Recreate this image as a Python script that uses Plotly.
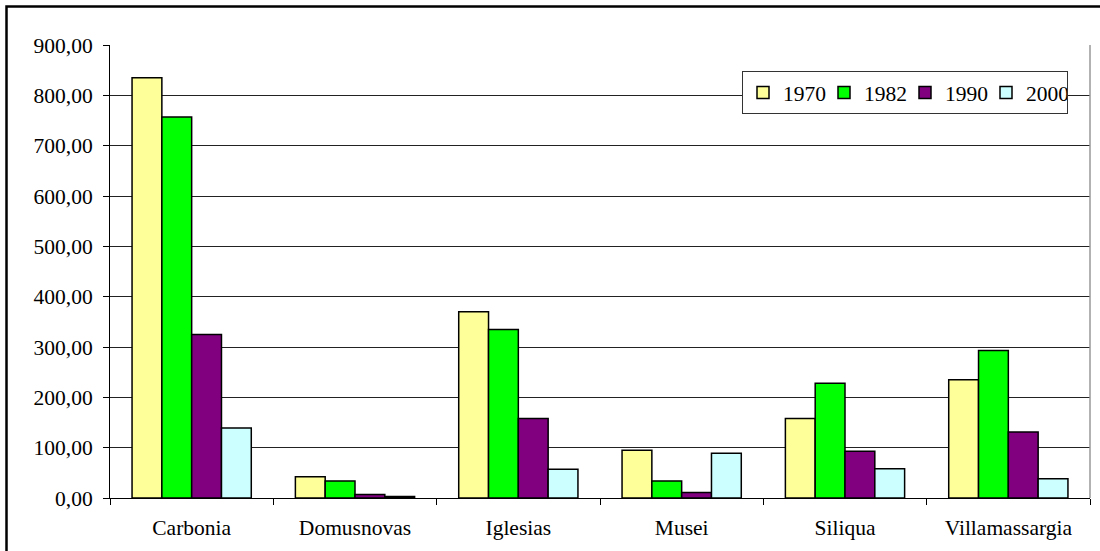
import plotly.graph_objects as go

categories = ["Carbonia", "Domusnovas", "Iglesias", "Musei", "Siliqua", "Villamassargia"]
years = ["1970", "1982", "1990", "2000"]
v1970 = [835, 42, 370, 95, 158, 235]
v1982 = [757, 34, 335, 34, 228, 293]
v1990 = [325, 7, 158, 11, 93, 131]
v2000 = [139, 3, 57, 89, 58, 38]
colors = ["#FFFF99", "#00FF00", "#800080", "#CCFFFF"]
series = [v1970, v1982, v1990, v2000]

FONT = "Liberation Serif, Times New Roman, serif"

fig = go.Figure()
for name, vals, col in zip(years, series, colors):
    fig.add_trace(go.Bar(
        x=categories, y=vals, name=name,
        marker=dict(color=col, line=dict(color="black", width=1.5)),
    ))

W, H = 1100, 551
L, R, T, B = 110, 10, 45, 53
pw, ph = W - L - R, H - T - B

def px_x(x):
    return (x - L) / pw

def px_y(y):
    return (H - B - y) / ph

fig.update_layout(
    width=W, height=H,
    margin=dict(l=L, r=R, t=T, b=B),
    paper_bgcolor="white", plot_bgcolor="white",
    barmode="group", bargap=0.27, bargroupgap=0,
    separators=", ",
    font=dict(family=FONT, size=21.5, color="black"),
    legend=dict(
        orientation="h", x=px_x(742), y=px_y(71), xanchor="left", yanchor="top",
        bgcolor="white", bordercolor="#333333", borderwidth=1,
        font=dict(family=FONT, size=21.5, color="black"),
        itemwidth=30, tracegroupgap=0, entrywidth=36,
    ),
    xaxis=dict(
        showline=True, linecolor="black", linewidth=1,
        ticks="outside", ticklen=6, tickcolor="black", tickson="boundaries",
        mirror=False, showgrid=False, ticklabelstandoff=10,
        tickfont=dict(family=FONT, size=21.5),
    ),
    yaxis=dict(
        range=[0, 900], dtick=100, tickformat=".2f",
        showline=True, linecolor="black", linewidth=1,
        ticks="outside", ticklen=6, tickcolor="black",
        showgrid=True, gridcolor="#222222", gridwidth=1,
        zeroline=False, ticklabelstandoff=6,
        tickfont=dict(family=FONT, size=21.5),
    ),
    shapes=[
        dict(type="line", xref="paper", yref="paper", x0=1, x1=1, y0=0, y1=1,
             line=dict(color="#999999", width=1.5)),
        dict(type="rect", xref="paper", yref="paper",
             x0=px_x(6.5), x1=px_x(1115), y0=px_y(565), y1=px_y(6.5),
             line=dict(color="black", width=2.5), layer="above"),
    ],
)

fig.write_html(
    "out.html",
    config={"displayModeBar": False},
    post_script="document.body.style.margin='0';document.body.style.padding='0';document.body.style.overflow='hidden';",
)
